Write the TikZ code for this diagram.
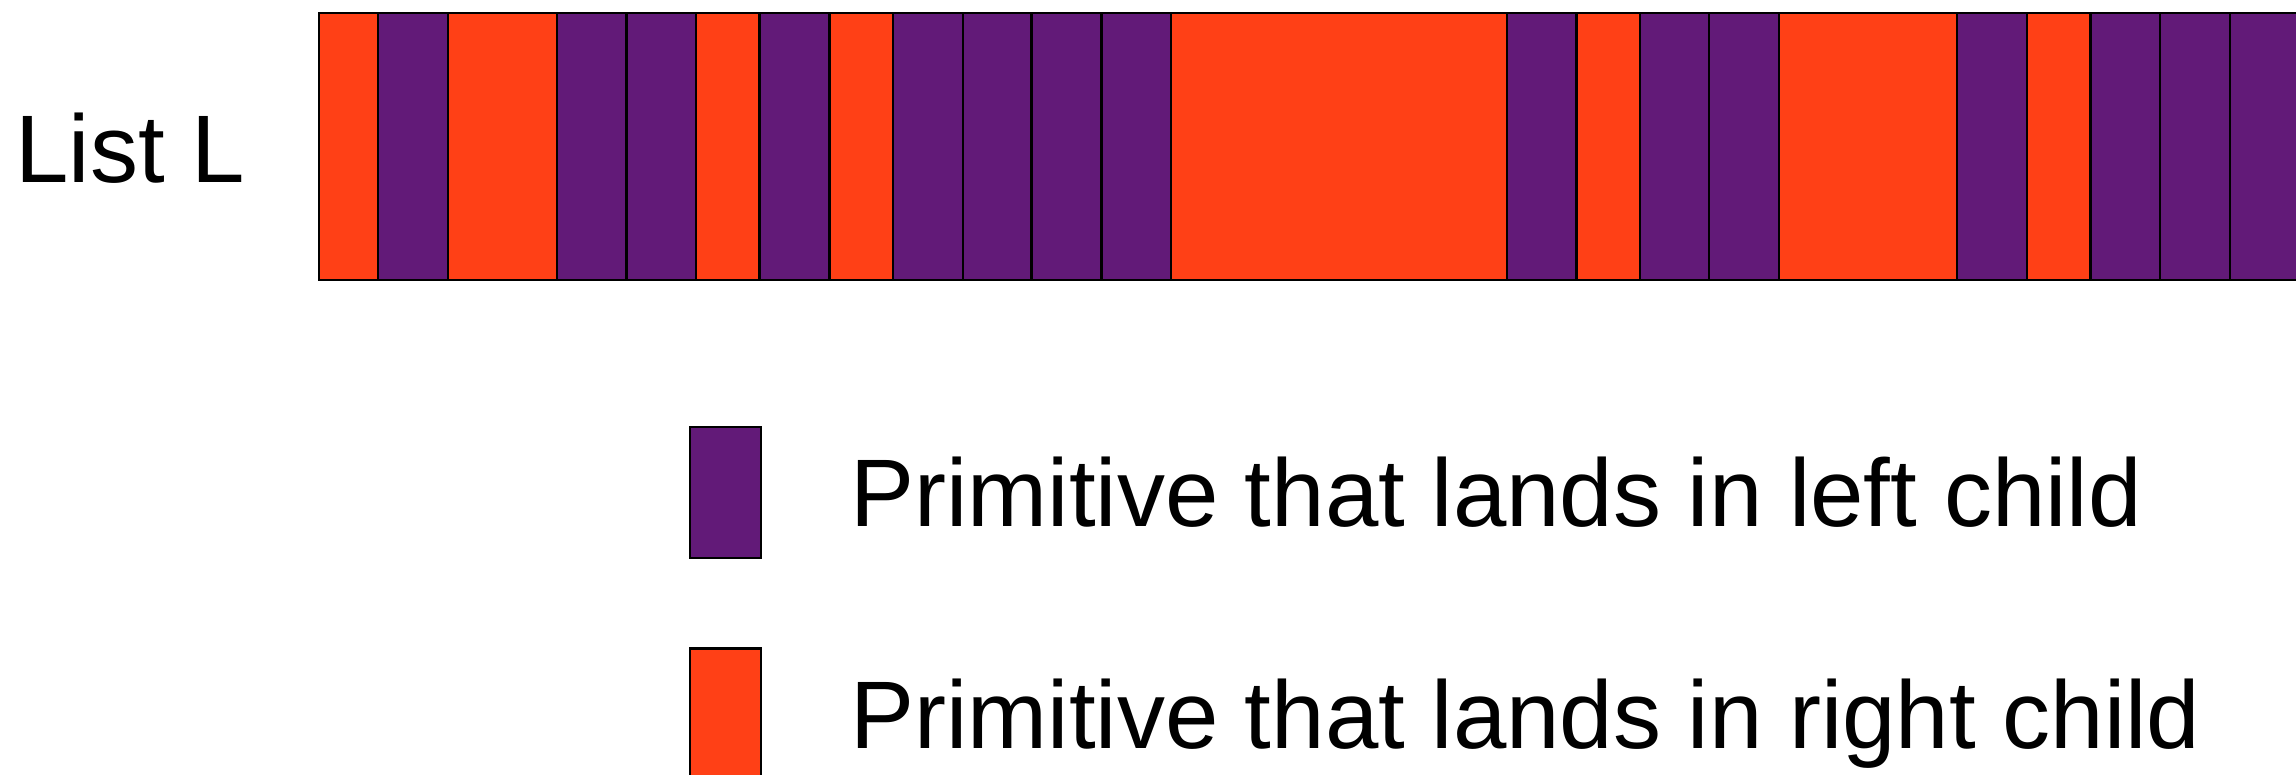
\documentclass[tikz,border=0pt]{standalone}
\usepackage{fontspec}
\setmainfont{Liberation Sans}
\definecolor{lc}{HTML}{621A78}
\definecolor{rc}{HTML}{FF4016}
\begin{document}
\begin{tikzpicture}[x=0.5pt,y=-0.5pt,
  cell/.style={draw=black,line width=1.2pt},
  leftcell/.style={cell,fill=lc},
  rightcell/.style={cell,fill=rc},
  lbl/.style={inner sep=0pt,anchor=base west,font=\fontsize{48}{58}\selectfont}]
\useasboundingbox (0,0) rectangle (2296,775);
\clip (0,0) rectangle (2296,775);
\foreach \a/\b/\s in {318.8/378.1/rightcell, 378.1/447.8/leftcell, 447.8/556.7/rightcell,
  556.7/626.3/leftcell, 626.3/696/leftcell, 696/759.4/rightcell, 759.4/829.5/leftcell,
  829.5/892.9/rightcell, 892.9/963/leftcell, 963/1031.3/leftcell, 1031.3/1101.3/leftcell,
  1101.3/1171/leftcell, 1171/1506.7/rightcell, 1506.7/1576.3/leftcell, 1576.3/1639.7/rightcell,
  1639.7/1708.9/leftcell, 1708.9/1779/leftcell, 1779/1957/rightcell, 1957/2027/leftcell,
  2027/2090.5/rightcell, 2090.5/2160/leftcell, 2160/2230/leftcell, 2230/2320/leftcell}
  \path[\s] (\a,13.3) rectangle (\b,280);
\node[lbl] (list) at (15,182.3) {List L};
\path[leftcell] (690,426.7) rectangle (760.7,557.7);
\path[rightcell] (690,648.3) rectangle (760.7,800);
\node[lbl] (tleft) at (850,526.7) {Primitive that lands in left child};
\node[lbl] (tright) at (850,748) {Primitive that lands in right child};
\end{tikzpicture}
\end{document}
